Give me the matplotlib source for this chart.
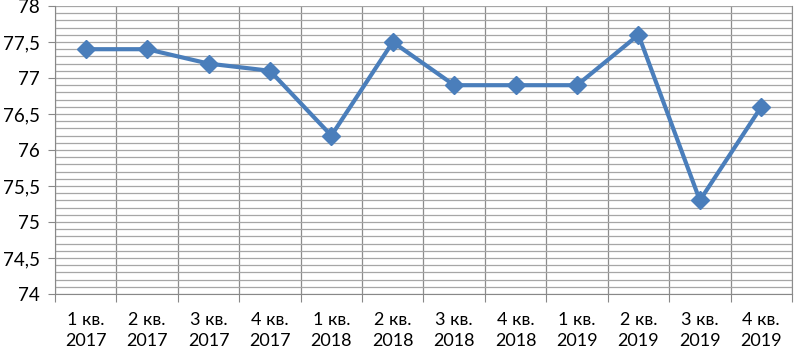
import numpy as np
import matplotlib.pyplot as plt
from matplotlib.ticker import MultipleLocator, FixedLocator, FuncFormatter

quarters = ["1 кв.\n2017", "2 кв.\n2017", "3 кв.\n2017", "4 кв.\n2017",
            "1 кв.\n2018", "2 кв.\n2018", "3 кв.\n2018", "4 кв.\n2018",
            "1 кв.\n2019", "2 кв.\n2019", "3 кв.\n2019", "4 кв.\n2019"]
values = [77.4, 77.4, 77.2, 77.1, 76.2, 77.5, 76.9, 76.9, 76.9, 77.6, 75.3, 76.6]

plt.rcParams['font.family'] = ['Lato', 'DejaVu Sans']

fig = plt.figure(figsize=(7.94, 3.53), dpi=100)
ax = fig.add_axes([55 / 794, 1 - 294 / 353, 737 / 794, 288 / 353])

x = np.arange(len(values))
ax.plot(x, values, color='#4A7EBB', lw=3.0, marker='D', ms=9, zorder=3)

ax.set_xlim(-0.5, len(values) - 0.5)
ax.set_ylim(74, 78)

# y axis: major every 0.5, grid every 0.1
ax.yaxis.set_major_locator(MultipleLocator(0.5))
ax.yaxis.set_minor_locator(MultipleLocator(0.1))
ax.yaxis.set_major_formatter(FuncFormatter(lambda v, p: f"{v:g}".replace('.', ',')))
ax.grid(which='both', axis='y', color='#a6a6a6', lw=0.9)
ax.tick_params(axis='y', which='major', length=5, color='#888888', labelsize=13.5, pad=6)
ax.tick_params(axis='y', which='minor', length=0)

# x axis: boundaries as major ticks with grid, labels at centers
ax.xaxis.set_major_locator(FixedLocator(np.arange(-0.5, len(values), 1.0)))
ax.xaxis.set_minor_locator(FixedLocator(x))
ax.set_xticklabels([], minor=False)
ax.set_xticklabels(quarters, minor=True)
ax.grid(which='major', axis='x', color='#8c8c8c', lw=0.9)
ax.tick_params(axis='x', which='major', length=6, color='#888888')
ax.tick_params(axis='x', which='minor', length=0, labelsize=13, pad=13)
for lbl in ax.get_xticklabels(minor=True):
    lbl.set_linespacing(1.4)

ax.spines['top'].set_visible(False)
ax.spines['right'].set_color('#8c8c8c')
ax.spines['left'].set_color('#888888')
ax.spines['bottom'].set_color('#888888')
ax.set_axisbelow(True)

fig.savefig("out.png", dpi=100)
